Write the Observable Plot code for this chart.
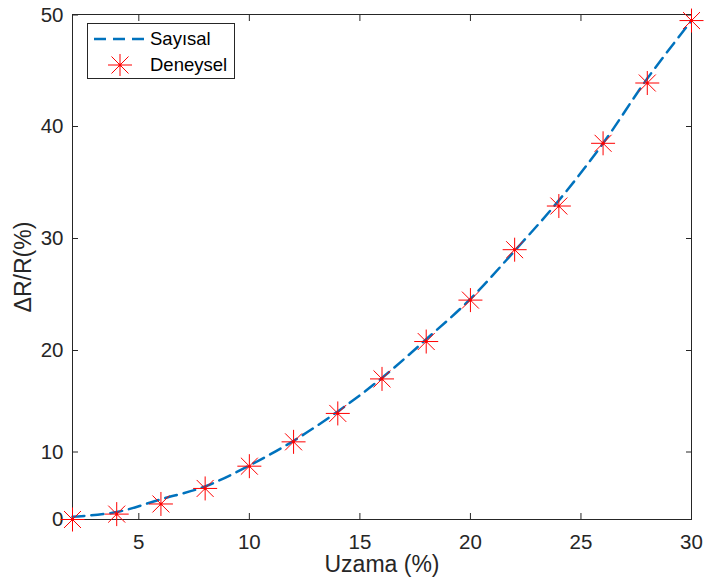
<!DOCTYPE html>
<html>
<head>
<meta charset="utf-8">
<script src="https://cdn.jsdelivr.net/npm/d3@7"></script>
<script src="https://cdn.jsdelivr.net/npm/@observablehq/plot@0.6"></script>
<style>
  body { margin: 0; background: #fff; }
  #wrap { position: relative; width: 705px; height: 588px; font-family: "Liberation Sans", Arial, Helvetica, sans-serif; }
  #legend { position: absolute; left: 87px; top: 23px; width: 148px; height: 56px; border: 1px solid #262626; background: #fff; box-sizing: border-box; font-size: 18.5px; color: #000; }
  .row { position: absolute; left: 0; height: 22px; }
  .row svg { position: absolute; left: 5px; top: 0; }
  .row span { position: absolute; left: 62px; top: 0; line-height: 22px; white-space: nowrap; }
</style>
</head>
<body>
<div id="wrap">
  <div id="chart"></div>
  <div id="legend">
    <div class="row" style="top:4px">
      <svg width="54" height="22"><line x1="1" y1="11" x2="53" y2="11" stroke="#0072BD" stroke-width="2.5" stroke-dasharray="12,7"/></svg>
      <span>Sayısal</span>
    </div>
    <div class="row" style="top:30px">
      <svg width="54" height="22"><g stroke="#FF0000" stroke-width="1" transform="translate(27,11)"><line x1="-12" y1="0" x2="12" y2="0"/><line x1="0" y1="-12" x2="0" y2="12"/><line x1="-8.5" y1="-8.5" x2="8.5" y2="8.5"/><line x1="-8.5" y1="8.5" x2="8.5" y2="-8.5"/></g><circle cx="27" cy="11" r="1.5" fill="#FF0000"/></svg>
      <span>Deneysel</span>
    </div>
  </div>
</div>
<script>
// Data
const uzama = [2, 4, 6, 8, 10, 12, 14, 16, 18, 20, 22, 24, 26, 28, 30];
const deneysel = [0, 0.8, 2.3, 4.6, 7.9, 11.0, 13.8, 17.2, 20.8, 24.5, 29.0, 32.9, 38.5, 43.9, 49.5];
const sayisal = [0.4, 1.1, 3.0, 4.9, 8.0, 11.1, 14.0, 17.3, 21.0, 24.6, 28.9, 33.4, 38.5, 44.3, 49.5];
const xTicks = [5, 10, 15, 20, 25, 30];
const yTicks = [0, 10, 20, 30, 40, 50];
// Axis tick positions as drawn (non-uniform in the reference)
const yDomain = [0, 10, 20, 30, 40, 50];
const yRange = [519, 451.5, 350, 238, 126, 14.5];

const numRows = uzama.map((x, i) => ({x, y: sayisal[i]}));
const expRows = uzama.map((x, i) => ({x, y: deneysel[i]}));

const asterisk = {
  draw(ctx, size) {
    const r = Math.sqrt(size / Math.PI);
    const d = r * Math.SQRT1_2;
    ctx.moveTo(-r, 0); ctx.lineTo(r, 0);
    ctx.moveTo(0, -r); ctx.lineTo(0, r);
    ctx.moveTo(-d, -d); ctx.lineTo(d, d);
    ctx.moveTo(-d, d); ctx.lineTo(d, -d);
  }
};

const ink = "#262626";
const chart = Plot.plot({
  width: 705,
  height: 588,
  marginLeft: 72,
  marginRight: 14,
  marginTop: 14,
  marginBottom: 69,
  style: {fontFamily: '"Liberation Sans", Arial, Helvetica, sans-serif', fontSize: "20px", color: ink, background: "#fff"},
  x: {domain: [2, 30]},
  y: {domain: yDomain, range: yRange, type: "linear"},
  marks: [
    Plot.frame({stroke: ink, strokeWidth: 1}),
    Plot.axisX(xTicks, {anchor: "bottom", tickSize: -6, tickPadding: 21, stroke: ink, fill: ink, fontSize: 20.5, label: null}),
    Plot.axisX(xTicks, {anchor: "top", tickSize: -6, text: null, stroke: ink, label: null}),
    Plot.axisY(yTicks, {anchor: "left", tickSize: -6, tickPadding: 15, stroke: ink, fill: ink, fontSize: 20.5, label: null}),
    Plot.axisY(yTicks, {anchor: "right", tickSize: -6, text: null, stroke: ink, label: null}),
    Plot.text(["Uzama (%)"], {frameAnchor: "bottom", dy: 52.5, fontSize: 23, fill: ink, textAnchor: "middle"}),
    Plot.text(["ΔR/R(%)"], {frameAnchor: "left", dx: -49, rotate: -90, fontSize: 23, fill: ink, textAnchor: "middle"}),
    Plot.line(numRows, {x: "x", y: "y", stroke: "#0072BD", strokeWidth: 2.5, strokeDasharray: "12,7", curve: "catmull-rom"}),
    Plot.dot(expRows, {x: "x", y: "y", symbol: asterisk, r: 12, stroke: "#FF0000", strokeWidth: 1, fill: "none"}),
    Plot.dot(expRows, {x: "x", y: "y", r: 1.5, fill: "#FF0000", stroke: null})
  ]
});
document.getElementById("chart").appendChild(chart);
</script>
</body>
</html>
